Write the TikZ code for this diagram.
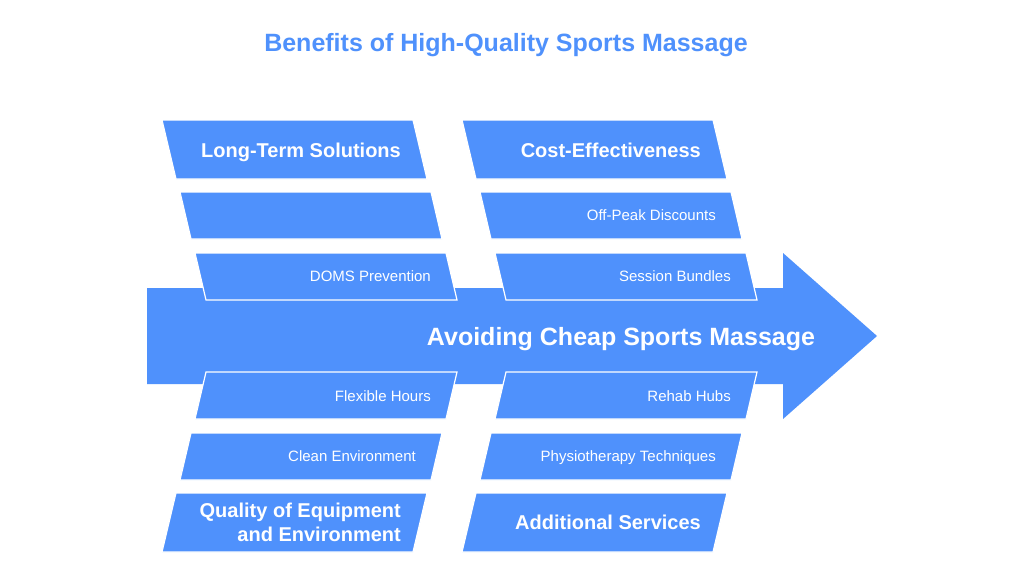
\documentclass[tikz,border=0pt]{standalone}
\usepackage{fontspec}
\setmainfont{Liberation Sans}
\definecolor{mblue}{HTML}{4F91FC}
\begin{document}
\begin{tikzpicture}[x=1pt,y=-1pt,
  band/.style={fill=mblue,draw=white,line width=1.2pt,line join=miter},
  arrowshape/.style={fill=mblue,draw=none},
  big/.style={text=white,font=\fontsize{20}{24}\selectfont\bfseries,anchor=base east,inner sep=0pt},
  bigtwo/.style={text=white,font=\fontsize{20}{24}\selectfont\bfseries,anchor=east,align=right,inner sep=0pt},
  small/.style={text=white,font=\fontsize{15}{18}\selectfont,anchor=base east,inner sep=0pt},
  title/.style={text=mblue,font=\fontsize{25}{30}\selectfont\bfseries,anchor=base,inner sep=0pt},
  main/.style={text=white,font=\fontsize{25}{30}\selectfont\bfseries,anchor=base,inner sep=0pt}]
\useasboundingbox (0,0) rectangle (1024,576);
\fill[white] (0,0) rectangle (1024,576);
% title
\node[title] (t) at (506,51) {Benefits of High-Quality Sports Massage};
% main arrow
\path[arrowshape] (147,288) -- (783,288) -- (783,253) -- (877,336) -- (783,419) -- (783,384) -- (147,384) -- cycle;
% top half, left column
\path[band] (162,120) -- (413,120) -- (427,179) -- (176,179) -- cycle;
\path[band] (180,192) -- (431,192) -- (442,239) -- (191,239) -- cycle;
\path[band] (195,253) -- (446,253) -- (457,300) -- (206,300) -- cycle;
% top half, right column
\path[band] (462,120) -- (713,120) -- (727,179) -- (476,179) -- cycle;
\path[band] (480,192) -- (731,192) -- (742,239) -- (491,239) -- cycle;
\path[band] (495,253) -- (746,253) -- (757,300) -- (506,300) -- cycle;
% bottom half, left column
\path[band] (206,372) -- (457,372) -- (446,419) -- (195,419) -- cycle;
\path[band] (191,433) -- (442,433) -- (431,480) -- (180,480) -- cycle;
\path[band] (176,493) -- (427,493) -- (413,552) -- (162,552) -- cycle;
% bottom half, right column
\path[band] (506,372) -- (757,372) -- (746,419) -- (495,419) -- cycle;
\path[band] (491,433) -- (742,433) -- (731,480) -- (480,480) -- cycle;
\path[band] (476,493) -- (727,493) -- (713,552) -- (462,552) -- cycle;
% main label
\node[main] (m) at (621,345) {Avoiding Cheap Sports Massage};
% labels
\node[big] (lts) at (401,157.2) {Long-Term Solutions};
\node[big] (ce) at (701,157.2) {Cost-Effectiveness};
\node[small] (opd) at (716,220.9) {Off-Peak Discounts};
\node[small] (doms) at (431,281.4) {DOMS Prevention};
\node[small] (sb) at (731,281.4) {Session Bundles};
\node[small] (fh) at (431,401.4) {Flexible Hours};
\node[small] (rh) at (731,401.4) {Rehab Hubs};
\node[small] (cle) at (416,461.4) {Clean Environment};
\node[small] (pt) at (716,461.4) {Physiotherapy Techniques};
\node[bigtwo] (qe) at (401,522) {Quality of Equipment\\and Environment};
\node[big] (as) at (701,529.2) {Additional Services};
\end{tikzpicture}
\end{document}
